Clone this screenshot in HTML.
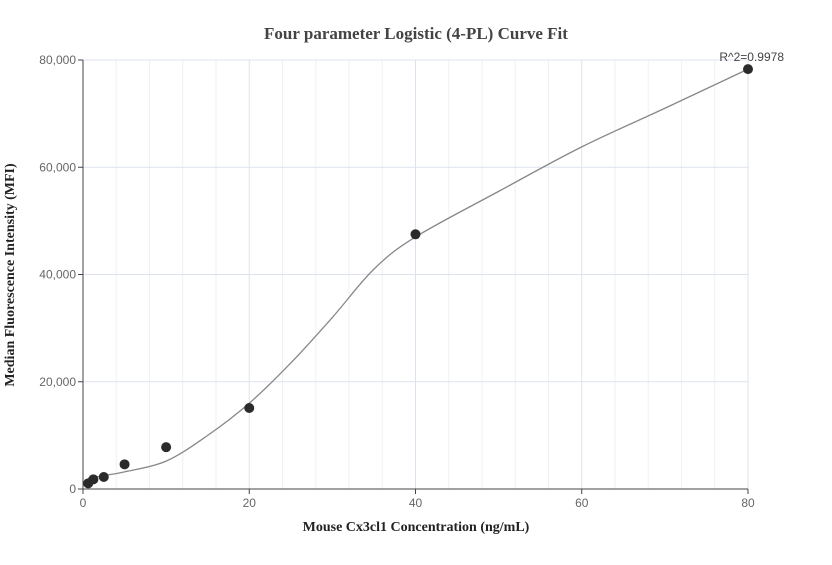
<!DOCTYPE html>
<html><head><meta charset="utf-8"><style>
body{margin:0;background:#fff;}
svg text{font-family:"Liberation Sans",sans-serif;}
</style></head><body>
<svg id="chart" width="832" height="560" xmlns="http://www.w3.org/2000/svg">
<text x="416" y="39" text-anchor="middle" font-family="Liberation Serif" font-weight="bold" font-size="17" fill="#444" style="font-family:'Liberation Serif',serif">Four parameter Logistic (4-PL) Curve Fit</text>
<text x="416" y="531" text-anchor="middle" font-weight="bold" font-size="14" style="font-family:'Liberation Serif',serif" fill="#222">Mouse Cx3cl1 Concentration (ng/mL)</text>
<text transform="translate(14,275) rotate(-90)" text-anchor="middle" font-weight="bold" font-size="14" style="font-family:'Liberation Serif',serif" fill="#222">Median Fluorescence Intensity (MFI)</text>
<g id="grid"></g><g id="axes"></g><g id="marks"></g>
</svg>
<script>
const xTicks=[0,20,40,60,80];
const yTicks=[0,20000,40000,60000,80000];
const pointX=[0.625,1.25,2.5,5,10,20,40,80];
const pointY=[1060,1800,2240,4600,7800,15100,47500,78300];
const curveX=[0.625,2.5,5,10,15,20,25,30,35,40,50,60,70,80];
const curveY=[2000,2500,3200,5200,10000,16000,23500,32000,41000,47000,55500,63800,71000,78300];
const r2Label="R^2=0.9978";
const X0=83,X1=748,Y0=489,Y1=60;
const sx=v=>X0+(v-0)/80*(X1-X0);
const sy=v=>Y0-(v/80000)*(Y0-Y1);
const NS="http://www.w3.org/2000/svg";
function mk(t,a,p){const e=document.createElementNS(NS,t);for(const k in a)e.setAttribute(k,a[k]);p.appendChild(e);return e;}
const grid=document.getElementById('grid'),axes=document.getElementById('axes'),marks=document.getElementById('marks');
for(let v=4;v<=80;v+=4){const l=mk('line',{x1:sx(v),x2:sx(v),y1:Y1,y2:Y0,stroke:v%20==0?'#dde3ee':'#eef1f6','stroke-width':1},grid);

}
yTicks.forEach(v=>{if(v===0)return;const l=mk('line',{x1:X0,x2:X1,y1:sy(v),y2:sy(v),stroke:'#dde3ee','stroke-width':1},grid);

});
const xa=mk('line',{x1:X0,x2:X1,y1:Y0,y2:Y0,stroke:'#444','stroke-width':1},axes);


const ya=mk('line',{x1:X0,x2:X0,y1:Y1,y2:Y0,stroke:'#444','stroke-width':1},axes);


xTicks.forEach(v=>{mk('line',{x1:sx(v),x2:sx(v),y1:Y0,y2:Y0+5,stroke:'#444'},axes);
const t=mk('text',{x:sx(v),y:Y0+18,'text-anchor':'middle','font-size':12,fill:'#666'},axes);t.textContent=v;

});
yTicks.forEach(v=>{mk('line',{x1:X0-5,x2:X0,y1:sy(v),y2:sy(v),stroke:'#444'},axes);
const t=mk('text',{x:X0-7,y:sy(v)+4,'text-anchor':'end','font-size':12,fill:'#666'},axes);t.textContent=v.toLocaleString('en-US');

});
// smooth curve (Catmull-Rom)
const P=curveX.map((x,i)=>[sx(x),sy(curveY[i])]);
let d='M'+P[0][0]+','+P[0][1];
for(let i=0;i<P.length-1;i++){const p0=P[i-1]||P[i],p1=P[i],p2=P[i+1],p3=P[i+2]||p2;
d+=' C'+(p1[0]+(p2[0]-p0[0])/6)+','+(p1[1]+(p2[1]-p0[1])/6)+' '+(p2[0]-(p3[0]-p1[0])/6)+','+(p2[1]-(p3[1]-p1[1])/6)+' '+p2[0]+','+p2[1];}
const c=mk('path',{d:d,fill:'none',stroke:'#888','stroke-width':1.3},marks);


pointX.forEach((x,i)=>{const p=mk('circle',{cx:sx(x),cy:sy(pointY[i]),r:5,fill:'#2b2b2b'},marks);

});
const r=mk('text',{x:sx(80)+36,y:sy(pointY[pointY.length-1])-8,'text-anchor':'end','font-size':12,fill:'#444'},marks);
r.textContent=r2Label;


</script>
</body></html>
